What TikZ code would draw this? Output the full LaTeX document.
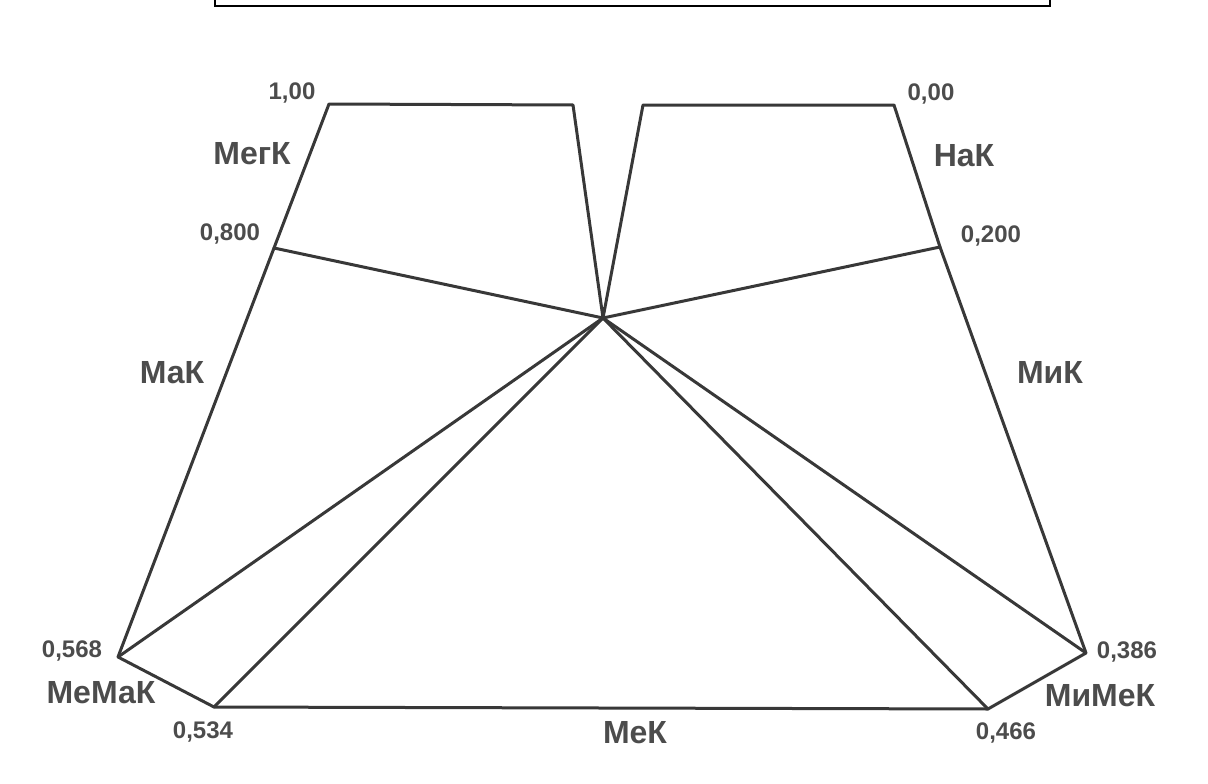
\documentclass[tikz,border=0pt]{standalone}
\usepackage{fontspec}
\setmainfont{Liberation Sans}
\begin{document}
\begin{tikzpicture}[x=1pt,y=-1pt,
  edge/.style={draw=black!78,line width=3pt,line join=round,line cap=round},
  num/.style={text=black!70,font=\fontsize{24}{24}\selectfont\bfseries,inner sep=0pt},
  lab/.style={text=black!70,font=\fontsize{32}{32}\selectfont\bfseries,inner sep=0pt}]
\useasboundingbox (0,0) rectangle (1208,784);
% top frame (cut off)
\draw[black,line width=2.2pt] (215,-5) -- (215,6) -- (1050,6) -- (1050,-5);
% vertices
\coordinate (C) at (603,318);
\coordinate (TL1) at (573,105);
\coordinate (A) at (329,104);
\coordinate (B) at (274,248);
\coordinate (D) at (118,657);
\coordinate (E) at (214,707);
\coordinate (F) at (988,709);
\coordinate (G) at (1086,653);
\coordinate (H) at (940,247);
\coordinate (I) at (894,105);
\coordinate (TR1) at (643,105);
% outline
\draw[edge] (C) -- (TL1) -- (A) -- (B) -- (D) -- (E) -- (F) -- (G) -- (H) -- (I) -- (TR1) -- cycle;
% spokes
\draw[edge] (C) -- (B);
\draw[edge] (C) -- (H);
\draw[edge] (C) -- (D);
\draw[edge] (C) -- (E);
\draw[edge] (C) -- (F);
\draw[edge] (C) -- (G);
% labels
\node[num] (n100) at (292,93) {1,00};
\node[num] (n000) at (931,94) {0,00};
\node[lab] (megk) at (252,154) {МегК};
\node[lab] (nak) at (964,156) {НаК};
\node[num] (n800) at (230,234) {0,800};
\node[num] (n200) at (991,236) {0,200};
\node[lab] (mak) at (172,373) {МаК};
\node[lab] (mik) at (1050,372) {МиК};
\node[num] (n568) at (72,651) {0,568};
\node[num] (n386) at (1127,652) {0,386};
\node[lab] (memak) at (101,693) {МеМаК};
\node[lab] (mimek) at (1100,696) {МиМеК};
\node[num] (n534) at (203,732) {0,534};
\node[lab] (mek) at (635,733) {МеК};
\node[num] (n466) at (1006,733) {0,466};
\end{tikzpicture}
\end{document}
